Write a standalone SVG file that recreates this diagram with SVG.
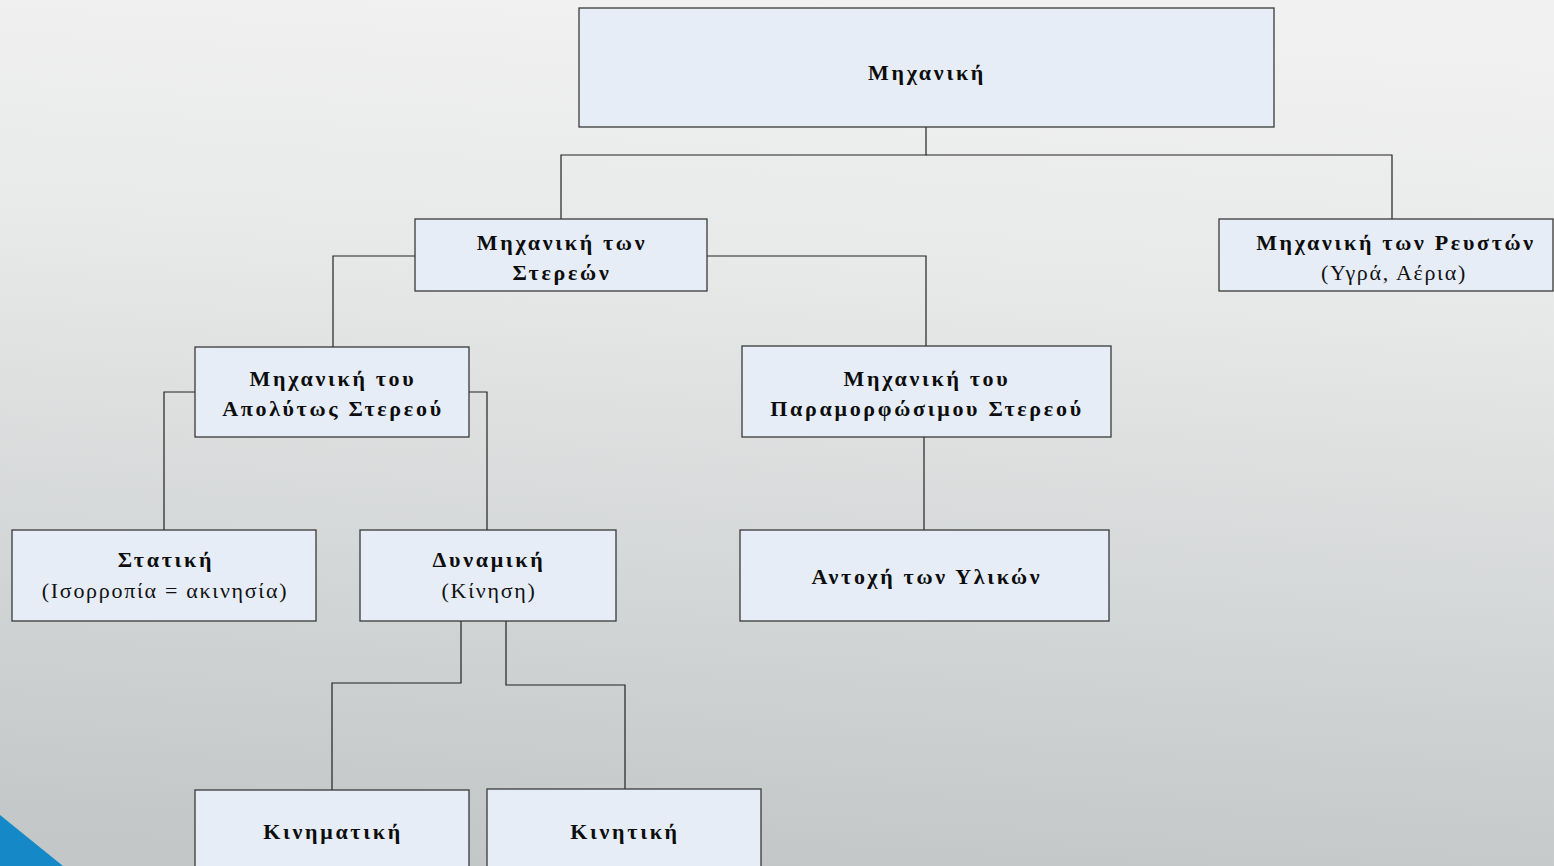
<svg xmlns="http://www.w3.org/2000/svg" width="1554" height="866" viewBox="0 0 1554 866">
<defs>
<linearGradient id="bg" x1="0.55" y1="0" x2="0.45" y2="1">
<stop offset="0" stop-color="#f1f1f1"/>
<stop offset="0.3" stop-color="#e8e9e9"/>
<stop offset="1" stop-color="#c3c7c8"/>
</linearGradient>
<style>
.box{fill:#e6edf7;stroke:#3a3a3a;stroke-width:1.3}
.t{font-family:"Liberation Serif","DejaVu Serif",serif;font-size:22px;font-weight:bold;fill:#0d0d0d;text-anchor:middle;letter-spacing:2.7px}
.s{font-family:"Liberation Serif","DejaVu Serif",serif;font-size:22px;fill:#111;text-anchor:middle;letter-spacing:1.7px}
.c{fill:none;stroke:#222;stroke-width:1.2}
</style>
</defs>
<rect width="1554" height="866" fill="url(#bg)"/>
<polygon points="0,815 63,866 0,866" fill="#1589c8"/>
<g id="connectors">
<polyline class="c" points="926,127 926,155 561,155 561,219"/>
<polyline class="c" points="926,155 1392,155 1392,219"/>
<polyline class="c" points="415,256 333,256 333,347"/>
<polyline class="c" points="707,256 926,256 926,346"/>
<polyline class="c" points="195,392 164,392 164,530"/>
<polyline class="c" points="469,392 487,392 487,530"/>
<polyline class="c" points="924,437 924,530"/>
<polyline class="c" points="461,621 461,683 332,683 332,790"/>
<polyline class="c" points="506,621 506,685 625,685 625,789"/>
</g>
<g id="n-mechanics"><rect class="box" x="579" y="8" width="695" height="119"/><text class="t" x="927" y="80">Μηχανική</text></g>
<g id="n-solids"><rect class="box" x="415" y="219" width="292" height="72"/><text class="t" x="562" y="250">Μηχανική των</text><text class="t" x="562" y="280">Στερεών</text></g>
<g id="n-fluids"><rect class="box" x="1219" y="219" width="334" height="72"/><text class="t" x="1396" y="250">Μηχανική των Ρευστών</text><text class="s" x="1394" y="280">(Υγρά, Αέρια)</text></g>
<g id="n-rigid"><rect class="box" x="195" y="347" width="274" height="90"/><text class="t" x="333" y="386">Μηχανική του</text><text class="t" x="333" y="416">Απολύτως Στερεού</text></g>
<g id="n-deformable"><rect class="box" x="742" y="346" width="369" height="91"/><text class="t" x="927" y="386">Μηχανική του</text><text class="t" x="927" y="416">Παραμορφώσιμου Στερεού</text></g>
<g id="n-statics"><rect class="box" x="12" y="530" width="304" height="91"/><text class="t" x="166" y="567">Στατική</text><text class="s" x="165" y="598">(Ισορροπία = ακινησία)</text></g>
<g id="n-dynamics"><rect class="box" x="360" y="530" width="256" height="91"/><text class="t" x="489" y="567">Δυναμική</text><text class="s" x="489" y="598">(Κίνηση)</text></g>
<g id="n-strength"><rect class="box" x="740" y="530" width="369" height="91"/><text class="t" x="927" y="584">Αντοχή των Υλικών</text></g>
<g id="n-kinematics"><rect class="box" x="195" y="790" width="274" height="90"/><text class="t" x="333" y="839">Κινηματική</text></g>
<g id="n-kinetics"><rect class="box" x="487" y="789" width="274" height="90"/><text class="t" x="625" y="839">Κινητική</text></g>
</svg>
